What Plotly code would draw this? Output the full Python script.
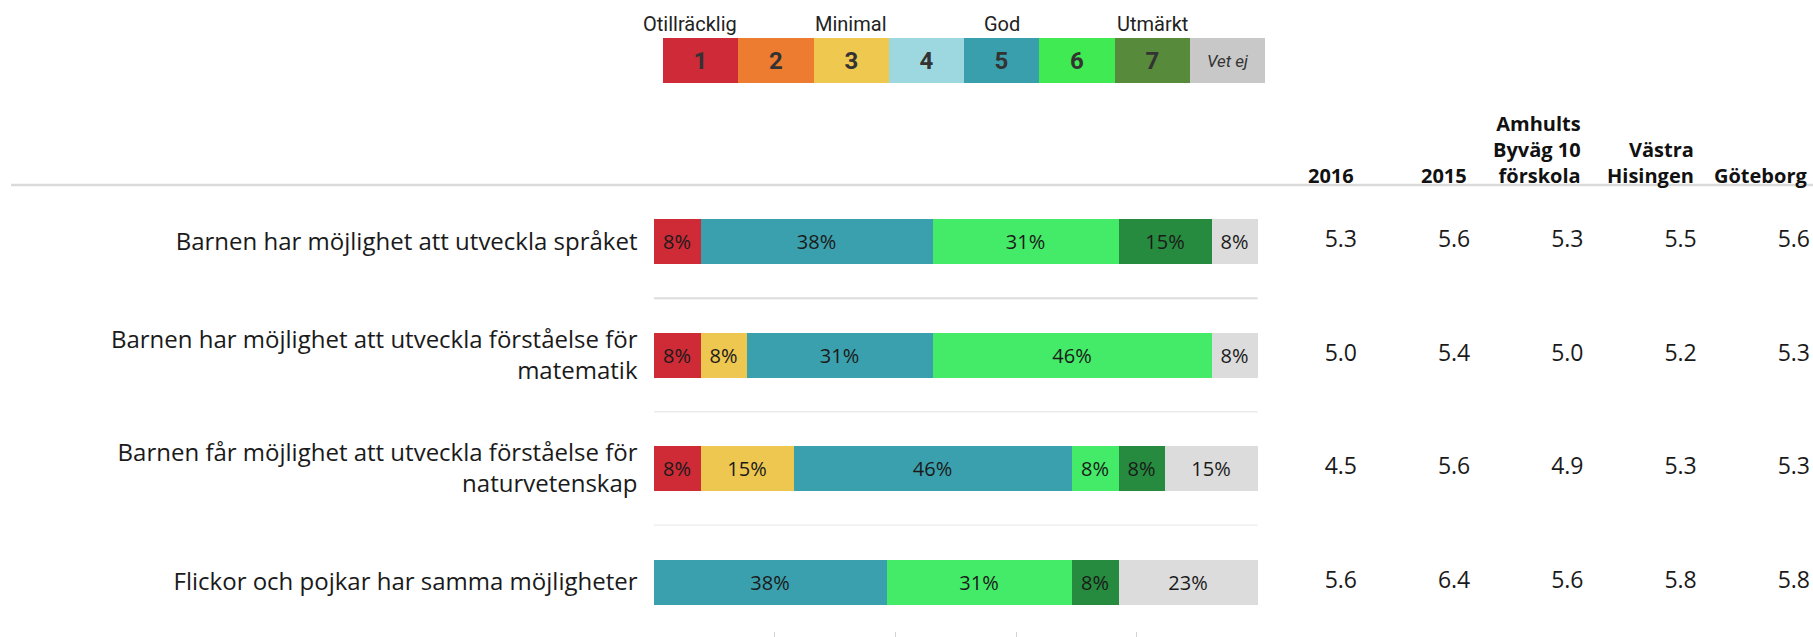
import plotly.graph_objects as go

# ---------------- data ----------------
rows = [
    "Barnen har möjlighet att utveckla språket",
    "Barnen har möjlighet att utveckla förståelse för<br>matematik",
    "Barnen får möjlighet att utveckla förståelse för<br>naturvetenskap",
    "Flickor och pojkar har samma möjligheter",
]

rating_names = ["1", "2", "3", "4", "5", "6", "7", "Vet ej"]
legend_labels = ["Otillräcklig", "Minimal", "God", "Utmärkt"]
legend_label_at = [0, 2, 4, 6]   # index of the key box each label sits over

# share of answers (%) per rating, one value per row (None = no answers)
s1 = [7.69, 7.69, 7.69, None]
s2 = [None, None, None, None]
s3 = [None, 7.69, 15.38, None]
s4 = [None, None, None, None]
s5 = [38.46, 30.77, 46.15, 38.46]
s6 = [30.77, 46.15, 7.69, 30.77]
s7 = [15.38, None, 7.69, 7.69]
s_vetej = [7.69, 7.69, 15.38, 23.08]
series = [s1, s2, s3, s4, s5, s6, s7, s_vetej]

columns = ["2016", "2015", "Amhults Byväg 10 förskola", "Västra Hisingen", "Göteborg"]
column_headers = ["2016", "2015", "Amhults<br>Byväg 10<br>förskola", "Västra<br>Hisingen", "Göteborg"]
v2016 = [5.3, 5.0, 4.5, 5.6]
v2015 = [5.6, 5.4, 5.6, 6.4]
v_amhults = [5.3, 5.0, 4.9, 5.6]
v_vastra = [5.5, 5.2, 5.3, 5.8]
v_goteborg = [5.6, 5.3, 5.3, 5.8]
table = [v2016, v2015, v_amhults, v_vastra, v_goteborg]

xticks = [0, 20, 40, 60, 80, 100]

# ---------------- styles / geometry ----------------
FW, FH = 1813, 637
FONT = "Open Sans, Noto Sans, DejaVu Sans, sans-serif"
KEYFONT = "Roboto, Lato, Open Sans, sans-serif"
bar_colors = ["#CE2B37", "#EE7D31", "#EEC751", "#9ED8E0", "#3BA0AD", "#43EB68", "#268B3F", "#DCDCDC"]
legend_colors = ["#CF2A38", "#EE7C30", "#EFC850", "#9DD8E0", "#3A9FAD", "#40EA52", "#578A3A", "#C8C8C8"]


def px_x(p):
    return p / FW


def px_y(p):
    return 1 - p / FH


# main bar subplot
BAR_L, BAR_R = 653.5, 1258.0
ROW0, ROW_STEP, BAR_H = 241.5, 113.5, 45.0
y_top = -ROW0 / ROW_STEP
y_bot = (FH - ROW0) / ROW_STEP

# table subplot
TAB_L = 1262.0
COL0, COL_STEP = 1357.0, 113.25
t_r0 = -(COL0 - TAB_L) / COL_STEP
t_r1 = t_r0 + (FW - TAB_L) / COL_STEP

fig = go.Figure()

# stacked bars
for name, vals, col in zip(rating_names, series, bar_colors):
    fig.add_trace(go.Bar(
        y=rows, x=vals, orientation="h", name=name,
        marker=dict(color=col, line=dict(width=0)),
        width=BAR_H / ROW_STEP,
        texttemplate="%{x:.0f}%", textposition="inside", insidetextanchor="middle",
        textangle=0, constraintext="none",
        textfont=dict(family=FONT, size=20, color="#1a1a1a"),
        hoverinfo="skip", showlegend=False,
        xaxis="x", yaxis="y",
    ))

# table values
for ci, vals in enumerate(table):
    fig.add_trace(go.Scatter(
        x=[ci] * len(rows), y=rows, mode="text",
        text=[f"{v:.1f}" for v in vals], textposition="middle left",
        textfont=dict(family=FONT, size=23, color="#1a1a1a"),
        hoverinfo="skip", showlegend=False, cliponaxis=False,
        xaxis="x2", yaxis="y",
    ))

# colour key at the top
key_text = ["<b>%s</b>" % n for n in rating_names[:-1]] + ["<i>Vet ej</i>"]
fig.add_trace(go.Bar(
    x=list(range(len(rating_names))), y=[1] * len(rating_names), width=1,
    marker=dict(color=legend_colors, line=dict(width=0)),
    text=key_text, textposition="inside", insidetextanchor="middle", textangle=0,
    constraintext="none",
    textfont=dict(family=KEYFONT, size=[24] * 7 + [17], color="#333333"),
    hoverinfo="skip", showlegend=False,
    xaxis="x3", yaxis="y3",
))

annotations = []
for lab, at in zip(legend_labels, legend_label_at):
    annotations.append(dict(
        x=at, xref="x3", y=px_y(24), yref="paper", text=lab, showarrow=False,
        xanchor="center", yanchor="middle",
        xshift=-11 if at == 0 else 0,
        font=dict(family=KEYFONT, size=20, color="#222222"),
    ))
for ci, head in enumerate(column_headers):
    annotations.append(dict(
        x=ci, xref="x2", y=px_y(191), yref="paper", text="<b>%s</b>" % head,
        showarrow=False, xanchor="right", yanchor="bottom", align="right",
        xshift=-1,
        font=dict(family=FONT, size=20, color="#111111"),
    ))

shapes = [
    dict(type="line", xref="paper", yref="paper", x0=px_x(11), x1=1, y0=px_y(185), y1=px_y(185),
         line=dict(color="#dadada", width=2.5)),
]
for yv, colr, wd in [(0.5, "#dcdcdc", 2), (1.5, "#ebebeb", 1.5), (2.5, "#f0f0f0", 1.5)]:
    shapes.append(dict(type="line", xref="x", yref="y", x0=0, x1=100, y0=yv, y1=yv,
                       line=dict(color=colr, width=wd), layer="below"))

noax = dict(showgrid=False, zeroline=False, showline=False, showticklabels=False, ticks="",
            fixedrange=True)

fig.update_layout(
    width=FW, height=FH,
    margin=dict(l=0, r=0, t=0, b=0),
    paper_bgcolor="white", plot_bgcolor="rgba(0,0,0,0)",
    barmode="stack", bargap=0,
    showlegend=False,
    font=dict(family=FONT, color="#1a1a1a"),
    xaxis=dict(domain=[px_x(BAR_L), px_x(BAR_R)], range=[-0.05, 100.05], anchor="y",
               showgrid=False, zeroline=False, showline=False,
               tickvals=xticks, ticks="inside", ticklen=5, tickwidth=1, tickcolor="#d4d4d4",
               showticklabels=False, fixedrange=True),
    yaxis=dict(domain=[0, 1], type="category", categoryarray=rows,
               range=[y_bot, y_top], anchor="x",
               showgrid=False, zeroline=False, showline=False, ticks="",
               ticklabelstandoff=15,
               tickfont=dict(family=FONT, size=24, color="#1a1a1a"), fixedrange=True),
    xaxis2=dict(domain=[px_x(TAB_L), 1], range=[t_r0, t_r1], anchor="y", **noax),
    xaxis3=dict(domain=[px_x(663), px_x(1265)], range=[-0.5, 7.5], anchor="y3", **noax),
    yaxis3=dict(domain=[px_y(83), px_y(38)], range=[0, 1], anchor="x3", **noax),
    annotations=annotations,
    shapes=shapes,
)

# remove the browser's default 8px page margin so the figure fills the window exactly
fig.write_html(
    "out.html",
    config={"displayModeBar": False},
    post_script="document.body.style.margin='0';document.body.style.overflow='hidden';",
)
